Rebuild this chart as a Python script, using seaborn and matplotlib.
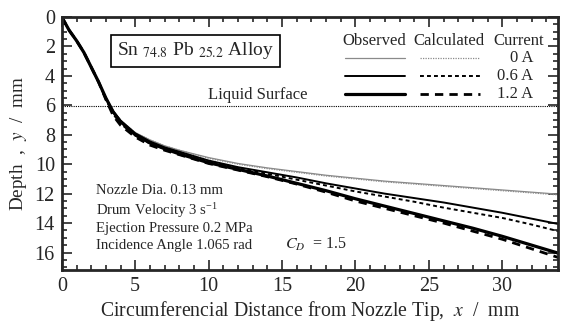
import numpy as np
import pandas as pd
import matplotlib
matplotlib.use("Agg")
import matplotlib.pyplot as plt
import seaborn as sns
from matplotlib.ticker import MultipleLocator

sns.set_style("ticks")
plt.rcParams['font.family'] = ['Liberation Serif', 'DejaVu Serif']
plt.rcParams['mathtext.fontset'] = 'stix'

# distance from nozzle tip (mm)
x_obs = [0, 0.5, 1, 1.5, 2, 2.5, 3, 3.5, 4, 5, 6, 7, 8, 10, 12, 14, 16, 18, 20, 22, 24, 26, 28, 30, 32, 34]

# observed depth (mm)
obs_0A = [0, 0.9, 1.6, 2.4, 3.4, 4.4, 5.5, 6.4, 7.0, 7.85, 8.35, 8.75, 9.05, 9.55, 9.95, 10.25, 10.5, 10.75, 10.95, 11.15, 11.3, 11.45, 11.6, 11.75, 11.9, 12.05]
obs_06A = [0, 0.9, 1.6, 2.4, 3.4, 4.4, 5.5, 6.4, 7.05, 7.9, 8.45, 8.85, 9.15, 9.75, 10.2, 10.55, 10.9, 11.3, 11.65, 12.0, 12.3, 12.6, 12.95, 13.3, 13.7, 14.1]
obs_12A = [0, 0.9, 1.6, 2.4, 3.4, 4.4, 5.5, 6.45, 7.1, 8.0, 8.55, 8.95, 9.3, 9.9, 10.35, 10.8, 11.3, 11.8, 12.35, 12.85, 13.35, 13.85, 14.35, 14.9, 15.5, 16.1]

# calculated depth (mm)
calc_0A = [0, 0.9, 1.6, 2.4, 3.4, 4.4, 5.5, 6.4, 7.0, 7.85, 8.35, 8.75, 9.05, 9.6, 10.0, 10.3, 10.55, 10.8, 11.0, 11.2, 11.35, 11.5, 11.65, 11.8, 11.95, 12.1]
calc_06A = [0, 0.9, 1.6, 2.4, 3.4, 4.4, 5.6, 6.6, 7.25, 8.05, 8.6, 8.95, 9.25, 9.85, 10.25, 10.65, 11.05, 11.45, 11.85, 12.2, 12.55, 12.95, 13.3, 13.65, 14.1, 14.6]
calc_12A = [0, 0.9, 1.6, 2.4, 3.4, 4.4, 5.6, 6.7, 7.35, 8.15, 8.7, 9.05, 9.35, 9.95, 10.4, 10.85, 11.35, 11.9, 12.5, 13.0, 13.5, 14.0, 14.55, 15.1, 15.75, 16.4]

liquid_surface = 6.05
currents = ["0 A", "0.6 A", "1.2 A"]
conditions = ["Nozzle Dia. 0.13 mm", r"Drum Velocity 3 s$^{\mathregular{-1}}$",
              "Ejection Pressure 0.2 MPa", "Incidence Angle 1.065 rad"]

fig = plt.figure(figsize=(5.62, 3.22), dpi=100)
ax = fig.add_axes([0.110, 0.161, 0.883, 0.786])

df = pd.DataFrame({"x": x_obs})
styles = [
    (obs_0A, dict(color="#8a8a8a", lw=0.9)),
    (calc_0A, dict(color="#8a8a8a", lw=0.9, ls=(0, (1, 1)))),
    (obs_06A, dict(color="black", lw=1.4)),
    (calc_06A, dict(color="black", lw=1.4, ls=(0, (2, 1.6)))),
    (obs_12A, dict(color="black", lw=2.3)),
    (calc_12A, dict(color="black", lw=2.0, ls=(0, (3, 2.2)))),
]
for vals, kw in styles:
    sns.lineplot(x=df["x"], y=vals, ax=ax, **kw)

ax.axhline(liquid_surface, color="black", lw=0.8, ls=(0, (1, 1)))
ax.text(9.95, 5.3, "Liquid Surface", fontsize=12, va="center")

ax.set_xlim(0, 33.8)
ax.set_ylim(17.2, 0)
ax.xaxis.set_major_locator(MultipleLocator(5))
ax.xaxis.set_minor_locator(MultipleLocator(1))
ax.yaxis.set_major_locator(MultipleLocator(2))
ax.yaxis.set_minor_locator(MultipleLocator(0.5))
ax.tick_params(which="both", direction="in", top=True, right=True, width=1.2)
ax.tick_params(which="major", length=7, labelsize=14.5, pad=5)
ax.tick_params(which="minor", length=3.5)
for sp in ax.spines.values():
    sp.set_linewidth(2)

ax.set_xlabel("Circumferencial Distance from Nozzle Tip,  $x$  /  mm", fontsize=14.2, labelpad=2)
ax.set_ylabel("Depth  ,  $y$  /  mm", fontsize=13.8, labelpad=4)

# alloy box
ax.text(3.75, 2.3, r"Sn $_{74.8}$ Pb $_{25.2}$ Alloy", fontsize=14, va="center",
        bbox=dict(boxstyle="square,pad=0.3", fc="white", ec="black", lw=1.2))

# legend built from text + short lines
ax.text(21.3, 1.6, "Observed", fontsize=12, ha="center", va="center")
ax.text(26.4, 1.6, "Calculated", fontsize=12, ha="center", va="center")
ax.text(31.1, 1.6, "Current", fontsize=12, ha="center", va="center")
rows_y = [2.8, 4.0, 5.2]
for i, cur in enumerate(currents):
    obs_kw = styles[2 * i][1]
    calc_kw = styles[2 * i + 1][1]
    ax.plot([19.3, 23.4], [rows_y[i]] * 2, **obs_kw)
    ax.plot([24.4, 28.5], [rows_y[i]] * 2, **calc_kw)
    ax.text(32.1, rows_y[i], cur, fontsize=12, ha="right", va="center")

cond_y = [11.8, 13.15, 14.35, 15.5]
for t, yy in zip(conditions, cond_y):
    ax.text(2.35, yy, t, fontsize=10.6, va="center")
ax.text(15.2, 15.45, r"$C_D$  = 1.5", fontsize=11.5, va="center")

plt.savefig("out.png", dpi=100)
plt.close()
